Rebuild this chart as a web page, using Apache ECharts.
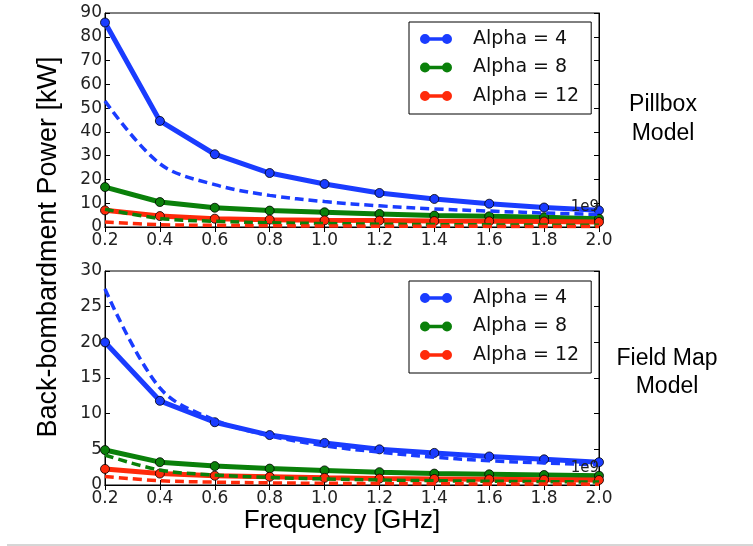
<!DOCTYPE html>
<html>
<head>
<meta charset="utf-8">
<script src="https://cdn.jsdelivr.net/npm/echarts@6/dist/echarts.min.js"></script>
<style>
html,body{margin:0;padding:0;background:#fff;}
#c{width:753px;height:546px;}
</style>
</head>
<body>
<div id="c"></div>
<script>
// ---- data ----
const freq = [0.2, 0.4, 0.6, 0.8, 1.0, 1.2, 1.4, 1.6, 1.8, 2.0];
const seriesNames = ['Alpha = 4', 'Alpha = 8', 'Alpha = 12'];

// Pillbox model (top)
const pillA4 = [86.0, 44.6, 30.6, 22.7, 18.1, 14.3, 11.8, 9.8, 8.2, 7.0];
const pillA8 = [16.8, 10.5, 8.1, 6.9, 6.2, 5.5, 4.8, 4.5, 4.1, 3.5];
const pillA12 = [7.0, 4.6, 3.5, 3.1, 2.8, 2.7, 2.5, 2.4, 2.3, 2.1];
const pillD4 = [53.0, 26.6, 17.8, 13.3, 10.7, 8.9, 7.6, 6.7, 5.9, 5.3];
const pillD8 = [7.5, 3.6, 2.4, 1.8, 1.45, 1.2, 1.0, 0.9, 0.8, 0.7];
const pillD12 = [2.1, 1.0, 0.7, 0.52, 0.42, 0.35, 0.3, 0.26, 0.23, 0.21];

// Field map model (bottom)
const fmA4 = [20.0, 11.8, 8.8, 7.0, 5.9, 5.0, 4.5, 4.0, 3.6, 3.2];
const fmA8 = [4.9, 3.2, 2.65, 2.3, 2.05, 1.8, 1.6, 1.5, 1.4, 1.3];
const fmA12 = [2.25, 1.6, 1.3, 1.15, 1.0, 0.9, 0.85, 0.8, 0.75, 0.7];
const fmD4 = [27.5, 13.6, 9.1, 6.9, 5.5, 4.6, 3.9, 3.4, 3.1, 2.8];
const fmD8 = [4.2, 2.1, 1.4, 1.05, 0.85, 0.7, 0.6, 0.53, 0.47, 0.42];
const fmD12 = [1.2, 0.6, 0.4, 0.3, 0.24, 0.2, 0.17, 0.15, 0.13, 0.12];

const yTop = {min: 0, max: 90, interval: 10};
const yBot = {min: 0, max: 30, interval: 5};

// ---- styling ----
const colors = ['#1a3cff', '#0a800a', '#ff2a0a'];
const tickFont = "'DejaVu Sans', sans-serif";
const sansFont = "'Liberation Sans', Arial, sans-serif";

function pairs(ys){ return freq.map((f,i)=>[f, ys[i]]); }

function solid(name, ys, ci, gi){
  return {
    type:'line', name:name, data:pairs(ys), xAxisIndex:gi*2, yAxisIndex:gi*2,
    symbol:'circle', symbolSize:9, showSymbol:true, clip:true,
    lineStyle:{color:colors[ci], width:5},
    itemStyle:{color:colors[ci], borderColor:'#000', borderWidth:0.8},
    animation:false, z:2
  };
}
function dashed(name, ys, ci, gi){
  return {
    type:'line', name:name, data:pairs(ys), xAxisIndex:gi*2, yAxisIndex:gi*2,
    symbol:'none', clip:true, smooth:0.35,
    lineStyle:{color:colors[ci], width:3.5, type:[9,5]},
    itemStyle:{color:colors[ci]},
    animation:false, z:3
  };
}

const grids = [
  {left:105, top:13, width:494, height:214},
  {left:105, top:271, width:494, height:214}
];

function xAxes(gi){
  const common = {
    type:'value', gridIndex:gi, min:0.2, max:2.0, interval:0.2,
    axisLine:{show:true, lineStyle:{color:'#000', width:1}},
    axisTick:{show:true, inside:true, length:5, lineStyle:{color:'#000'}},
    splitLine:{show:false}
  };
  return [
    Object.assign({}, common, {position:'bottom',
      axisLabel:{show:true, color:'#222', fontFamily:tickFont, fontSize:17, margin:5,
        formatter:v=>v.toFixed(1)}}),
    Object.assign({}, common, {position:'top', axisLabel:{show:false}})
  ];
}
function yAxes(gi, r){
  const common = {
    type:'value', gridIndex:gi, min:r.min, max:r.max, interval:r.interval,
    axisLine:{show:true, lineStyle:{color:'#000', width:1}},
    axisTick:{show:true, inside:true, length:5, lineStyle:{color:'#000'}},
    splitLine:{show:false}
  };
  return [
    Object.assign({}, common, {position:'left',
      axisLabel:{show:true, color:'#222', fontFamily:tickFont, fontSize:17, margin:3,
        formatter:v=>String(Math.round(v))}}),
    Object.assign({}, common, {position:'right', axisLabel:{show:false}})
  ];
}

const iconPath = 'path://M0,5a5,5 0 1,1 10,0a5,5 0 1,1 -10,0z M5,3.2h22v3.6h-22z M22,5a5,5 0 1,1 10,0a5,5 0 1,1 -10,0z';

function legend(top){
  return {
    show:true, orient:'vertical', left:409, top:top,
    data:seriesNames.map(n=>({name:n, icon:iconPath})),
    itemWidth:32, itemHeight:10, itemGap:8.5,
    padding:[7,12,8,11],
    borderColor:'#000', borderWidth:1, backgroundColor:'#fff',
    textStyle:{fontFamily:tickFont, fontSize:19, color:'#111', lineHeight:20, padding:[0,0,0,16]},
    selectedMode:false,
    itemStyle:{borderWidth:0}
  };
}

const option = {
  backgroundColor:'#fff',
  animation:false,
  grid: grids.map(g=>Object.assign({show:true, borderColor:'#000', borderWidth:1, backgroundColor:'transparent'}, g)),
  xAxis: [].concat(xAxes(0), xAxes(1)),
  yAxis: [].concat(yAxes(0, yTop), yAxes(1, yBot)),
  legend: [legend(22), legend(281)],
  series: [
    solid(seriesNames[0], pillA4, 0, 0),
    solid(seriesNames[1], pillA8, 1, 0),
    solid(seriesNames[2], pillA12, 2, 0),
    dashed('Pillbox approx 4', pillD4, 0, 0),
    dashed('Pillbox approx 8', pillD8, 1, 0),
    dashed('Pillbox approx 12', pillD12, 2, 0),
    solid(seriesNames[0], fmA4, 0, 1),
    solid(seriesNames[1], fmA8, 1, 1),
    solid(seriesNames[2], fmA12, 2, 1),
    dashed('Field map approx 4', fmD4, 0, 1),
    dashed('Field map approx 8', fmD8, 1, 1),
    dashed('Field map approx 12', fmD12, 2, 1)
  ],
  graphic: [
    {type:'text', x:49, y:247, rotation:Math.PI/2,
      style:{text:'Back-bombardment Power [kW]', fontFamily:sansFont, fontSize:27, fill:'#000',
        textAlign:'center', textVerticalAlign:'middle'}},
    {type:'text', x:342, y:521,
      style:{text:'Frequency [GHz]', fontFamily:sansFont, fontSize:26, fill:'#000',
        textAlign:'center', textVerticalAlign:'middle'}},
    {type:'text', x:663, y:105,
      style:{text:'Pillbox', fontFamily:sansFont, fontSize:23, fill:'#000', textAlign:'center', textVerticalAlign:'middle'}},
    {type:'text', x:663, y:134,
      style:{text:'Model', fontFamily:sansFont, fontSize:23, fill:'#000', textAlign:'center', textVerticalAlign:'middle'}},
    {type:'text', x:667, y:359,
      style:{text:'Field Map', fontFamily:sansFont, fontSize:23, fill:'#000', textAlign:'center', textVerticalAlign:'middle'}},
    {type:'text', x:667, y:387,
      style:{text:'Model', fontFamily:sansFont, fontSize:23, fill:'#000', textAlign:'center', textVerticalAlign:'middle'}},
    {type:'text', x:599, y:207, z:100,
      style:{text:'1e9', fontFamily:tickFont, fontSize:15, fill:'#222', textAlign:'right', textVerticalAlign:'middle'}},
    {type:'text', x:599, y:468, z:100,
      style:{text:'1e9', fontFamily:tickFont, fontSize:15, fill:'#222', textAlign:'right', textVerticalAlign:'middle'}},
    {type:'line', shape:{x1:7, y1:545, x2:753, y2:545}, style:{stroke:'#c8c8c8', lineWidth:1.5}}
  ]
};

const chart = echarts.init(document.getElementById('c'), null, {renderer:'canvas'});
chart.setOption(option);
</script>
</body>
</html>
